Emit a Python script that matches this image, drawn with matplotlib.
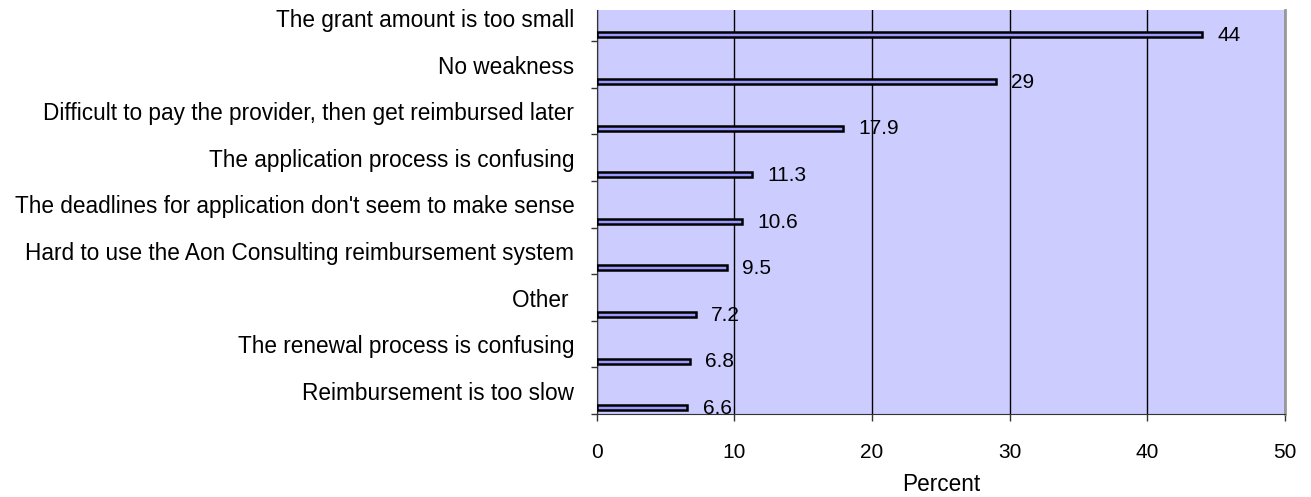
import matplotlib
matplotlib.use("Agg")
import matplotlib.pyplot as plt
import numpy as np

# data, bottom to top
categories = [
    "Reimbursement is too slow",
    "The renewal process is confusing",
    "Other ",
    "Hard to use the Aon Consulting reimbursement system",
    "The deadlines for application don't seem to make sense",
    "The application process is confusing",
    "Difficult to pay the provider, then get reimbursed later",
    "No weakness",
    "The grant amount is too small",
]
values = [6.6, 6.8, 7.2, 9.5, 10.6, 11.3, 17.9, 29, 44]
value_labels = ["6.6", "6.8", "7.2", "9.5", "10.6", "11.3", "17.9", "29", "44"]
xticks = [0, 10, 20, 30, 40, 50]

plt.rcParams["font.family"] = ["Liberation Sans", "DejaVu Sans"]
fs_cat = 16.3
fs_num = 15

fig = plt.figure(figsize=(13.11, 4.97), dpi=100)
ax = fig.add_axes([596.5 / 1311, 83 / 497, (1285 - 596.5) / 1311, 404 / 497])
ax.set_facecolor("#CCCCFF")

pos = np.arange(len(categories))
ax.barh(pos + 0.135, values, height=0.11, color="#9999FF",
        edgecolor="black", linewidth=1.8, zorder=3)

for p, v, lab in zip(pos, values, value_labels):
    ax.text(v + 1.1, p + 0.12, lab, va="center", ha="left",
            fontsize=fs_num, zorder=4)

ax.set_xlim(0, 50)
ax.set_ylim(0, 8.67)
ax.set_xticks(xticks)
ax.set_xticklabels([str(x) for x in xticks], fontsize=fs_num)
ax.xaxis.grid(True, color="black", linewidth=1)
ax.set_axisbelow(True)

ax.set_yticks(pos)
ax.set_yticklabels([])
ax.set_yticks(pos + 0.5, minor=True)
ax.set_yticklabels(categories, minor=True, fontsize=fs_cat)
ax.tick_params(axis="y", which="minor", length=0, pad=16)
ax.tick_params(axis="y", which="major", length=4, width=1, color="#333333")
ax.tick_params(axis="x", length=5, width=1, color="#333333", pad=16)

ax.spines["top"].set_visible(False)
ax.spines["left"].set_color("#333333")
ax.spines["bottom"].set_color("#333333")
ax.spines["right"].set_color("#999999")
ax.spines["right"].set_linewidth(2)

ax.set_xlabel("Percent", fontsize=fs_cat, labelpad=8)

fig.savefig("out.png", dpi=100)
